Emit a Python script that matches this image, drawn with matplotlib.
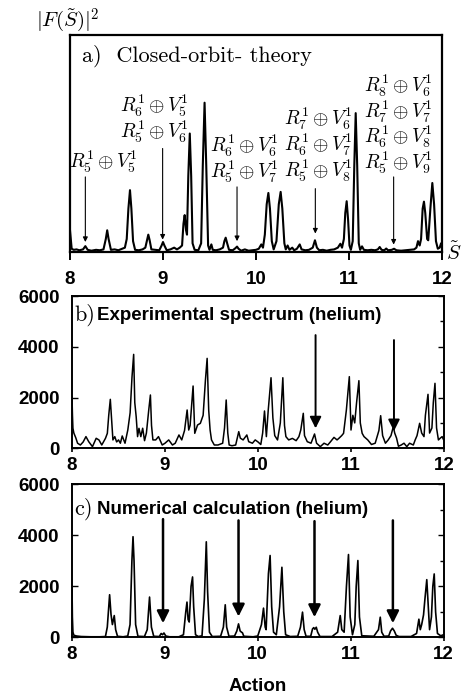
import matplotlib
matplotlib.use('Agg')
import matplotlib.pyplot as plt
from matplotlib.ticker import MultipleLocator

plt.rcParams['mathtext.fontset'] = 'cm'
plt.rcParams['axes.unicode_minus'] = False

# ---------------- data ----------------
# a) closed-orbit theory |F(S)|^2 (arbitrary units, axis top = 1)
S_a = [8.000, 8.008, 8.018, 8.04, 8.07, 8.10, 8.14, 8.165, 8.19, 8.23, 8.28, 8.32, 8.36,
       8.385, 8.40, 8.415, 8.44, 8.48, 8.52, 8.56, 8.59, 8.61, 8.628, 8.645, 8.66, 8.678,
       8.70, 8.74, 8.78, 8.81, 8.828, 8.842, 8.856, 8.875, 8.92, 8.96, 8.985, 9.0, 9.015,
       9.04, 9.08, 9.12, 9.15, 9.18, 9.205, 9.22, 9.233, 9.248, 9.258, 9.272, 9.288, 9.303,
       9.318, 9.34, 9.38, 9.41, 9.428, 9.447, 9.465, 9.485, 9.50, 9.52, 9.535, 9.57, 9.61,
       9.645, 9.66, 9.674, 9.69, 9.71, 9.75, 9.78, 9.796, 9.812, 9.84, 9.88, 9.92, 9.96,
       10.0, 10.03, 10.057, 10.075, 10.095, 10.115, 10.133, 10.15, 10.17, 10.19, 10.22,
       10.245, 10.265, 10.283, 10.305, 10.32, 10.34, 10.36, 10.39, 10.41, 10.44, 10.47,
       10.49, 10.53, 10.57, 10.61, 10.634, 10.655, 10.68, 10.72, 10.76, 10.80, 10.84,
       10.88, 10.907, 10.925, 10.945, 10.96, 10.975, 10.99, 11.005, 11.02, 11.04, 11.057,
       11.072, 11.088, 11.105, 11.12, 11.14, 11.16, 11.20, 11.24, 11.28, 11.31, 11.33,
       11.35, 11.38, 11.40, 11.42, 11.46, 11.484, 11.51, 11.56, 11.61, 11.66, 11.70,
       11.725, 11.742, 11.76, 11.775, 11.792, 11.806, 11.82, 11.84, 11.852, 11.875,
       11.896, 11.915, 11.935, 11.955, 11.975, 11.99, 12.0]
F_a = [0.10, 0.06, 0.015, 0.01, 0.012, 0.008, 0.012, 0.027, 0.01, 0.006, 0.01, 0.008, 0.012,
       0.06, 0.10, 0.06, 0.01, 0.012, 0.008, 0.015, 0.02, 0.06, 0.20, 0.285, 0.20, 0.05,
       0.01, 0.008, 0.012, 0.02, 0.055, 0.08, 0.055, 0.012, 0.01, 0.008, 0.03, 0.046, 0.03,
       0.008, 0.012, 0.02, 0.012, 0.02, 0.03, 0.13, 0.17, 0.10, 0.08, 0.35, 0.546, 0.35,
       0.04, 0.01, 0.008, 0.04, 0.40, 0.688, 0.40, 0.03, 0.01, 0.035, 0.01, 0.008, 0.012,
       0.02, 0.05, 0.066, 0.04, 0.01, 0.008, 0.018, 0.025, 0.015, 0.006, 0.012, 0.006, 0.008,
       0.01, 0.015, 0.035, 0.02, 0.08, 0.22, 0.272, 0.20, 0.05, 0.012, 0.05,
       0.22, 0.277, 0.20, 0.04, 0.012, 0.03, 0.01, 0.02, 0.008, 0.015, 0.035,
       0.012, 0.008, 0.01, 0.02, 0.054, 0.02, 0.008, 0.01, 0.006, 0.01, 0.012,
       0.02, 0.038, 0.02, 0.06, 0.18, 0.234, 0.15, 0.03, 0.01, 0.05, 0.40,
       0.64, 0.40, 0.04, 0.01, 0.026, 0.01, 0.008, 0.01, 0.008, 0.012, 0.023,
       0.01, 0.008, 0.016, 0.008, 0.01, 0.015, 0.008, 0.006, 0.008, 0.01, 0.012,
       0.02, 0.05, 0.03, 0.06, 0.20, 0.232, 0.18, 0.06, 0.054, 0.20,
       0.318, 0.22, 0.05, 0.015, 0.02, 0.04, 0.02]

# b) experimental spectrum (helium)
S_b = [8.0, 8.005, 8.01, 8.02, 8.04, 8.06, 8.09, 8.12, 8.15, 8.18, 8.22, 8.26, 8.29, 8.32,
       8.36, 8.38, 8.395, 8.412, 8.425, 8.44, 8.46, 8.48, 8.50, 8.52, 8.54, 8.57, 8.60,
       8.625, 8.645, 8.663, 8.675, 8.69, 8.705, 8.72, 8.74, 8.76, 8.78, 8.80, 8.825, 8.843,
       8.855, 8.87, 8.90, 8.93, 8.97, 9.0, 9.04, 9.08, 9.11, 9.15, 9.18, 9.21, 9.238, 9.255,
       9.27, 9.302, 9.32, 9.35, 9.38, 9.41, 9.435, 9.453, 9.47, 9.485, 9.50, 9.53, 9.57,
       9.62, 9.64, 9.658, 9.675, 9.69, 9.72, 9.76, 9.793, 9.81, 9.84, 9.88, 9.90, 9.94,
       9.97, 10.0, 10.03, 10.05, 10.07, 10.09, 10.11, 10.14, 10.16, 10.18, 10.21, 10.24,
       10.267, 10.285, 10.30, 10.33, 10.37, 10.41, 10.44, 10.46, 10.487, 10.50, 10.53,
       10.57, 10.608, 10.63, 10.67, 10.71, 10.75, 10.78, 10.817, 10.85, 10.87, 10.90,
       10.92, 10.95, 10.982, 11.0, 11.02, 11.04, 11.06, 11.085, 11.10, 11.12, 11.14, 11.18,
       11.22, 11.26, 11.30, 11.319, 11.34, 11.37, 11.40, 11.43, 11.455, 11.47, 11.49,
       11.51, 11.54, 11.57, 11.60, 11.63, 11.67, 11.69, 11.71, 11.738, 11.76, 11.785,
       11.80, 11.828, 11.845, 11.87, 11.885, 11.903, 11.92, 11.94, 11.96, 11.98, 12.0]
I_b = [2030, 1300, 790, 600, 420, 200, 130, 250, 460, 260, 65, 394, 328, 130,
       394, 590, 1300, 1929, 1200, 330, 460, 250, 330, 200, 486, 200, 720,
       1400, 2800, 3700, 1800, 1247, 460, 787, 460, 790, 300, 600, 1500, 2100,
       900, 330, 330, 460, 130, 200, 330, 130, 200, 525, 330, 700, 1509, 720,
       900, 2454, 590, 918, 984, 1300, 2700, 3543, 1500, 720, 330, 130, 130,
       200, 800, 1903, 600, 130, 100, 130, 656, 400, 330, 525, 260, 200,
       330, 250, 150, 600, 1470, 460, 1500, 2780, 1200, 500, 328, 1000,
       2780, 900, 460, 330, 390, 300, 460, 720, 1378, 500, 260,
       200, 564, 200, 65, 200, 130, 260, 430, 330, 394, 500,
       590, 1500, 2822, 720, 1300, 1000, 1800, 2664, 1000, 590, 460, 330,
       150, 200, 700, 1285, 500, 200, 330, 500, 853, 600, 400,
       80, 130, 200, 65, 200, 130, 330, 500, 984, 600, 460,
       1300, 2126, 600, 800, 1800, 2560, 800, 330, 400, 460, 300]

# c) numerical calculation (helium)
S_c = [8.0, 8.004, 8.01, 8.02, 8.05, 8.1, 8.2, 8.3, 8.36, 8.38, 8.405, 8.42, 8.435, 8.455,
       8.47, 8.49, 8.55, 8.60, 8.625, 8.645, 8.657, 8.668, 8.685, 8.71, 8.78, 8.81, 8.835,
       8.855, 8.88, 8.94, 8.96, 8.975, 8.99, 9.01, 9.05, 9.15, 9.20, 9.225, 9.238, 9.25,
       9.262, 9.282, 9.298, 9.31, 9.33, 9.36, 9.40, 9.425, 9.446, 9.46, 9.48, 9.51, 9.60,
       9.63, 9.65, 9.665, 9.69, 9.75, 9.775, 9.793, 9.81, 9.825, 9.835, 9.85, 9.95, 10.0,
       10.04, 10.062, 10.08, 10.09, 10.115, 10.133, 10.15, 10.17, 10.20, 10.235, 10.26,
       10.28, 10.30, 10.35, 10.43, 10.46, 10.482, 10.50, 10.52, 10.57, 10.59, 10.603,
       10.615, 10.63, 10.645, 10.67, 10.80, 10.86, 10.888, 10.905, 10.93, 10.955, 10.977,
       10.995, 11.02, 11.045, 11.06, 11.078, 11.095, 11.12, 11.25, 11.30, 11.319, 11.335,
       11.36, 11.41, 11.43, 11.451, 11.47, 11.49, 11.52, 11.65, 11.71, 11.735, 11.75,
       11.765, 11.785, 11.80, 11.82, 11.838, 11.85, 11.87, 11.885, 11.90, 11.915, 11.935,
       11.97, 12.0]
I_c = [2000, 800, 200, 80, 50, 30, 20, 20, 30, 400, 1671, 900, 500, 853,
       300, 40, 20, 50, 500, 3000, 3950, 3000, 500, 40, 30, 300, 1580,
       400, 40, 30, 150, 100, 170, 50, 20, 20, 100, 1000, 1383, 700,
       600, 2000, 2370, 1200, 100, 30, 60, 1500, 3750, 1800, 200, 30, 40,
       400, 1277, 400, 40, 50, 250, 527, 250, 200, 180, 40, 20, 50,
       500, 1145, 400, 300, 2500, 3212, 1200, 200, 100, 1200, 2750,
       1000, 100, 30, 40, 400, 988, 300, 40, 40, 330, 380,
       316, 395, 200, 30, 30, 200, 853, 300, 200, 2000, 3250,
       800, 100, 500, 2000, 3015, 800, 60, 40, 300, 790, 200,
       40, 50, 250, 356, 250, 80, 30, 30, 150, 711, 300,
       500, 880, 1500, 2264, 1100, 300, 800, 2000, 2488, 1000, 150,
       60, 100]

x_ticks = [8, 9, 10, 11, 12]
y_ticks = [0, 2000, 4000, 6000]

# orbit labels in panel a and the actions they point at
orbit_groups = [
    [r"$R_5^1\oplus V_5^1$"],
    [r"$R_6^1\oplus V_5^1$", r"$R_5^1\oplus V_6^1$"],
    [r"$R_6^1\oplus V_6^1$", r"$R_5^1\oplus V_7^1$"],
    [r"$R_7^1\oplus V_6^1$", r"$R_6^1\oplus V_7^1$", r"$R_5^1\oplus V_8^1$"],
    [r"$R_8^1\oplus V_6^1$", r"$R_7^1\oplus V_7^1$", r"$R_6^1\oplus V_8^1$", r"$R_5^1\oplus V_9^1$"],
]
orbit_actions = [8.165, 8.996, 9.796, 10.638, 11.48]
arrows_b = [10.619, 11.462]
arrows_c = [8.98, 9.793, 10.611, 11.455]

# ---------------- layout ----------------
W, H = 461, 694
fig = plt.figure(figsize=(W / 100, H / 100), dpi=100)
axa = fig.add_axes([70 / W, 1 - 252 / H, 372 / W, 217 / H])
axb = fig.add_axes([72 / W, 1 - 448.3 / H, 372 / W, 152.3 / H])
axc = fig.add_axes([72 / W, 1 - 637.3 / H, 371.5 / W, 152.8 / H])

sans = 'Liberation Sans'
tick_font = dict(family=sans, weight='bold', size=13.5)

# panel a
axa.plot(S_a, F_a, color='black', lw=1.5, solid_joinstyle='round')
axa.set_xlim(8, 12)
axa.set_ylim(0, 1)
axa.set_yticks([])
axa.set_xticks(x_ticks)
axa.set_xticklabels([str(t) for t in x_ticks], fontdict=tick_font)
axa.tick_params(axis='x', direction='out', length=6, width=1.4, pad=8)
for sp in axa.spines.values():
    sp.set_linewidth(1.6)
axa.text(0.032, 0.903, "a)  Closed-orbit- theory", transform=axa.transAxes,
         family='cmr10', fontsize=16, va='center', ha='left')

label_x = [8.355, 8.91, 9.87, 10.667, 11.534]
label_top = [0.415, 0.672, 0.489, 0.612, 0.765]
tails = [0.346, 0.477, 0.30, 0.292, 0.346]
tips = [0.046, 0.057, 0.05, 0.085, 0.034]
step = 0.118
for grp, lx, ly, s, t0, t1 in zip(orbit_groups, label_x, label_top, orbit_actions, tails, tips):
    for k, txt in enumerate(grp):
        axa.text(lx, ly - k * step, txt, fontsize=14, ha='center', va='center')
    axa.annotate('', xy=(s, t1), xytext=(s, t0),
                 arrowprops=dict(arrowstyle='-|>', color='black', lw=0.8,
                                 mutation_scale=7, shrinkA=0, shrinkB=0))

fig.text(68 / W, 1 - 20 / H, r"$|F(\tilde{S})|^2$", fontsize=15, ha='center', va='center')
fig.text(454 / W, 1 - 253 / H, r"$\tilde{S}$", fontsize=15, ha='center', va='center')


def style_spec(ax):
    ax.set_xlim(8, 12)
    ax.set_ylim(0, 6000)
    ax.set_xticks(x_ticks)
    ax.set_xticklabels([str(t) for t in x_ticks], fontdict=tick_font)
    ax.set_yticks(y_ticks)
    ax.set_yticklabels([str(t) for t in y_ticks], fontdict=tick_font)
    ax.yaxis.set_minor_locator(MultipleLocator(1000))
    ax.tick_params(axis='x', direction='out', length=3, width=1.2, pad=3)
    ax.tick_params(axis='y', which='major', direction='in', length=4, width=1.0,
                   right=True, pad=9)
    ax.tick_params(axis='y', which='minor', direction='in', length=3, width=1.0,
                   left=False, right=True)
    for sp in ax.spines.values():
        sp.set_linewidth(1.4)


# panel b
axb.plot(S_b, I_b, color='black', lw=1.1, solid_joinstyle='round')
style_spec(axb)
axb.text(0.006, 0.875, "b)", transform=axb.transAxes, family='cmr10', fontsize=16,
         va='center', ha='left')
axb.text(0.067, 0.875, "Experimental spectrum (helium)", transform=axb.transAxes,
         family=sans, weight='bold', fontsize=13.5, va='center', ha='left')
for s, t0, t1 in zip(arrows_b, [4460, 4264], [787, 677]):
    axb.annotate('', xy=(s, t1), xytext=(s, t0),
                 arrowprops=dict(arrowstyle='-|>', color='black', lw=1.4,
                                 mutation_scale=17, shrinkA=0, shrinkB=0))

# panel c
axc.plot(S_c, I_c, color='black', lw=1.2, solid_joinstyle='round')
style_spec(axc)
axc.text(0.006, 0.838, "c)", transform=axc.transAxes, family='cmr10', fontsize=16,
         va='center', ha='left')
axc.text(0.067, 0.838, "Numerical calculation (helium)", transform=axc.transAxes,
         family=sans, weight='bold', fontsize=13.5, va='center', ha='left')
for s, t0, t1 in zip(arrows_c, [4640, 4590, 4560, 4590], [553, 815, 790, 553]):
    axc.annotate('', xy=(s, t1), xytext=(s, t0),
                 arrowprops=dict(arrowstyle='-|>', color='black', lw=1.8,
                                 mutation_scale=18, shrinkA=0, shrinkB=0))
axc.set_xlabel("Action", family=sans, weight='bold', fontsize=13.5, labelpad=11)

fig.savefig('out.png', dpi=100)
